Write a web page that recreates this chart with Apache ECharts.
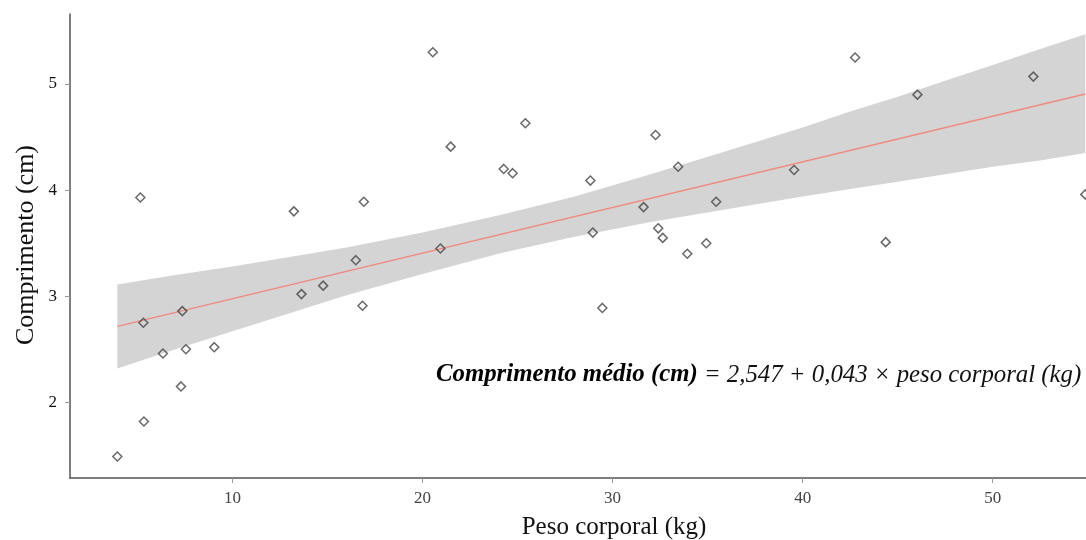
<!DOCTYPE html>
<html>
<head>
<meta charset="utf-8">
<script src="https://cdn.jsdelivr.net/npm/echarts@6/dist/echarts.min.js"></script>
<style>html,body{margin:0;padding:0;background:#fff;}#c{width:1086px;height:540px;}</style>
</head>
<body>
<div id="c"></div>
<script>
// Observations: peso corporal (kg) and comprimento (cm)
const pesoKg = [3.94, 5.34, 5.31, 6.34, 7.36, 7.55, 7.29, 9.04, 13.63, 14.77, 16.49, 16.84, 5.15, 13.23,
  20.54, 16.91, 21.48, 25.41, 24.27, 24.74, 28.83, 32.26, 33.45, 31.63, 35.45, 28.96, 32.40, 32.64,
  33.93, 34.93, 20.94, 29.46, 42.76, 46.04, 52.14, 39.55, 44.37, 54.87];
const comprimentoCm = [1.49, 1.82, 2.75, 2.46, 2.86, 2.50, 2.15, 2.52, 3.02, 3.10, 3.34, 2.91, 3.93, 3.80,
  5.30, 3.89, 4.41, 4.63, 4.20, 4.16, 4.09, 4.52, 4.22, 3.84, 3.89, 3.60, 3.64, 3.55,
  3.40, 3.50, 3.45, 2.89, 5.25, 4.90, 5.07, 4.19, 3.51, 3.96];
// Fitted line end points
const fitX = [3.94, 54.87];
const fitY = [2.716, 4.906];
// Confidence band
const bandX =     [3.94, 7,    10,   13,   16,   20,   24.2, 28,   32,   36,   40,   42.5, 45,   47.5, 50,   52.5, 54.87];
const bandUpper = [3.11, 3.20, 3.28, 3.37, 3.46, 3.60, 3.77, 3.94, 4.15, 4.37, 4.59, 4.74, 4.88, 5.03, 5.18, 5.33, 5.47];
const bandLower = [2.32, 2.50, 2.67, 2.84, 3.01, 3.21, 3.41, 3.56, 3.70, 3.82, 3.94, 4.01, 4.08, 4.15, 4.22, 4.28, 4.35];
// Tick labels
const xTicks = [10, 20, 30, 40, 50];
const yTicks = [2, 3, 4, 5];

const chart = echarts.init(document.getElementById('c'), null, {renderer: 'canvas'});
const serif = '"Liberation Serif", "DejaVu Serif", serif';

const option = {
  animation: false,
  backgroundColor: '#fff',
  grid: {left: 70, top: 14, right: 0, bottom: 62, containLabel: false},
  xAxis: {
    type: 'value', min: 1.45, max: 54.91,
    axisLine: {show: true, lineStyle: {color: '#555', width: 1.5}},
    axisTick: {show: true, length: 5, lineStyle: {color: '#999'}, customValues: xTicks},
    axisLabel: {customValues: xTicks, color: '#444', fontFamily: serif, fontSize: 17, margin: 12},
    splitLine: {show: false}
  },
  yAxis: {
    type: 'value', min: 1.287, max: 5.66,
    axisLine: {show: true, lineStyle: {color: '#555', width: 1.5}},
    axisTick: {show: true, length: 5, lineStyle: {color: '#999'}, customValues: yTicks},
    axisLabel: {customValues: yTicks, color: '#111', fontFamily: serif, fontSize: 17, margin: 13},
    splitLine: {show: false}
  },
  graphic: [
    {type: 'text', x: 614, y: 527, style: {text: 'Peso corporal (kg)', font: '25px ' + serif, fill: '#111', align: 'center', verticalAlign: 'middle'}},
    {type: 'text', x: 26, y: 245, rotation: Math.PI / 2, style: {text: 'Comprimento (cm)', font: '26px ' + serif, fill: '#111', align: 'center', verticalAlign: 'middle'}},
    {type: 'text', x: 436, y: 375, style: {
      rich: {
        b: {fontFamily: serif, fontStyle: 'italic', fontWeight: 'bold', fontSize: 24.8, fill: '#000'},
        n: {fontFamily: serif, fontStyle: 'italic', fontSize: 24.8, fill: '#111'}
      },
      text: '{b|Comprimento médio (cm)}{n| = 2,547 + 0,043 × peso corporal (kg)}',
      verticalAlign: 'middle'
    }}
  ],
  series: [
    {
      type: 'custom', z: 1, silent: true,
      data: [0],
      renderItem: function (params, api) {
        const pts = [];
        for (let i = 0; i < bandX.length; i++) pts.push(api.coord([bandX[i], bandUpper[i]]));
        for (let i = bandX.length - 1; i >= 0; i--) pts.push(api.coord([bandX[i], bandLower[i]]));
        return {type: 'polygon', shape: {points: pts}, style: {fill: '#d4d4d4', stroke: null}};
      },
      clip: false
    },
    {
      type: 'line', z: 2, silent: true, symbol: 'none',
      data: fitX.map((x, i) => [x, fitY[i]]),
      lineStyle: {color: '#f08a80', width: 1.5}
    },
    {
      type: 'scatter', z: 3,
      symbol: 'diamond', symbolSize: 9,
      data: pesoKg.map((x, i) => [x, comprimentoCm[i]]),
      itemStyle: {color: 'rgba(255,255,255,0)', borderColor: '#444', borderWidth: 1.5}
    }
  ]
};
chart.setOption(option);
</script>
</body>
</html>
